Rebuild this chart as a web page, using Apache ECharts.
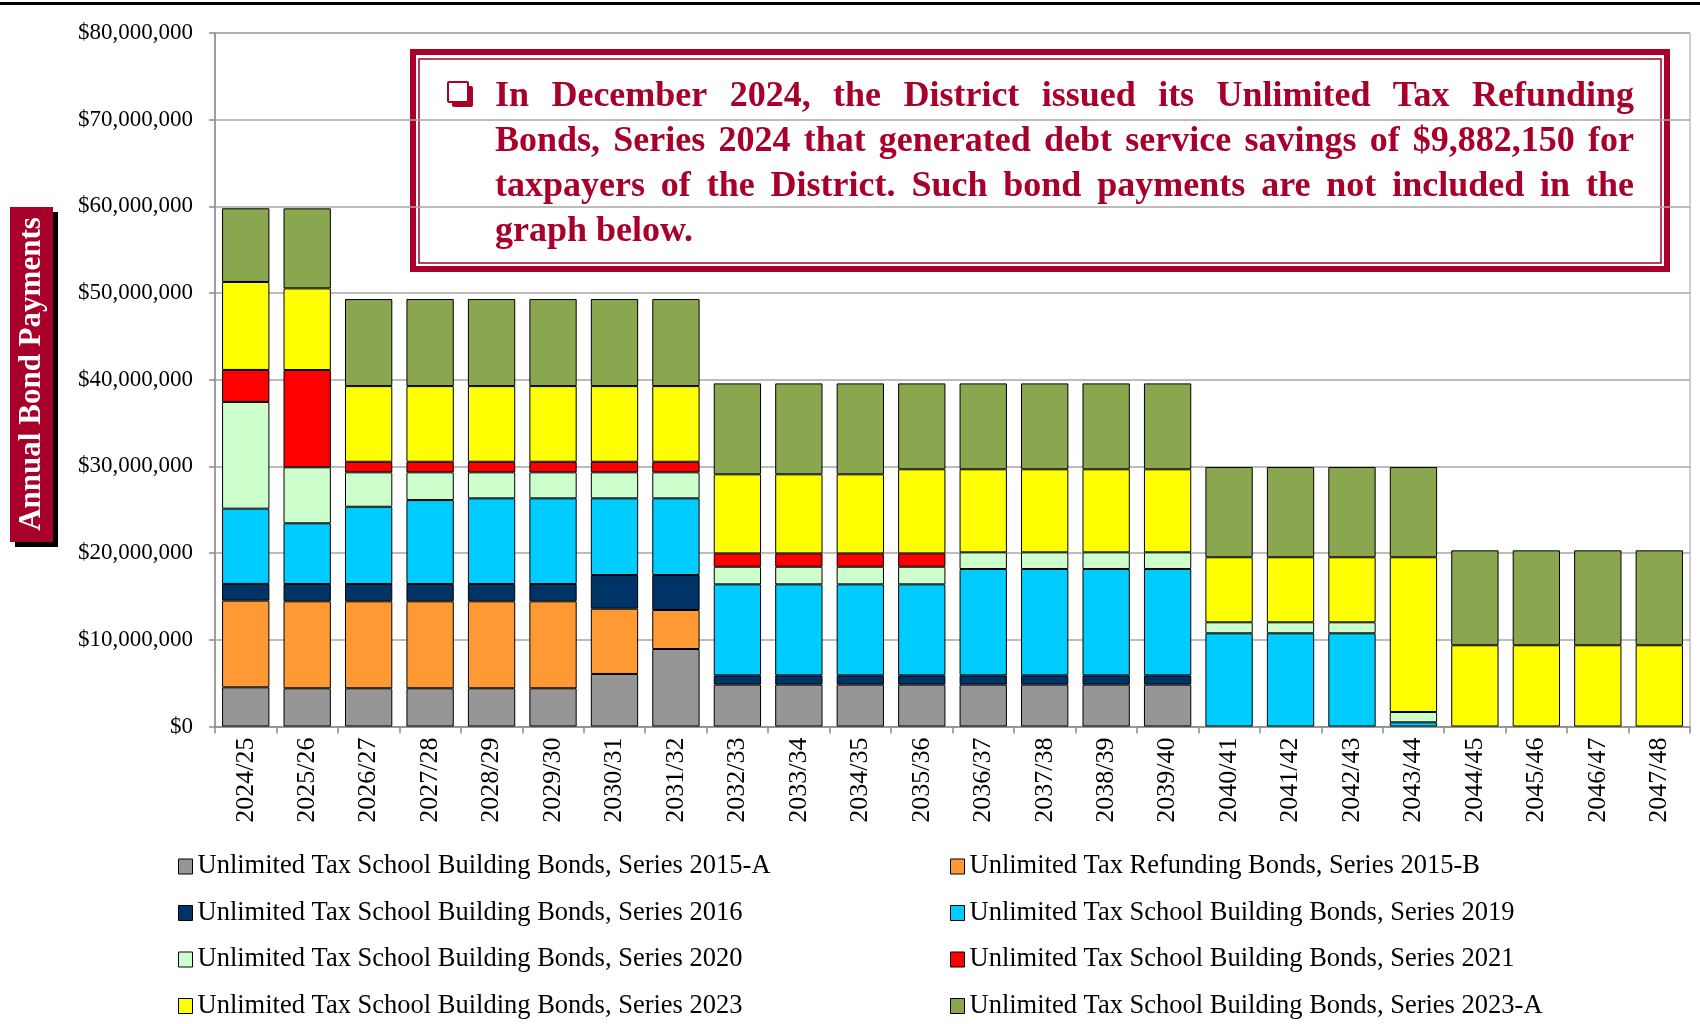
<!DOCTYPE html>
<html>
<head>
<meta charset="utf-8">
<script src="https://cdn.jsdelivr.net/npm/echarts@6/dist/echarts.min.js"></script>
<style>
  html, body { margin: 0; padding: 0; background: #fff; }
  #chart { width: 1700px; height: 1024px; }
</style>
</head>
<body>
<div id="chart"></div>
<script>
const categories = [
  "2024/25", "2025/26", "2026/27", "2027/28", "2028/29", "2029/30", "2030/31", "2031/32",
  "2032/33", "2033/34", "2034/35", "2035/36", "2036/37", "2037/38", "2038/39", "2039/40",
  "2040/41", "2041/42", "2042/43", "2043/44", "2044/45", "2045/46", "2046/47", "2047/48"
];

const s2015A = [4520000, 4410000, 4410000, 4410000, 4410000, 4410000, 6060000, 8940000,
  4830000, 4830000, 4830000, 4830000, 4830000, 4830000, 4830000, 4830000,
  null, null, null, null, null, null, null, null];
const s2015B = [10000000, 10030000, 10030000, 10030000, 10030000, 10030000, 7530000, 4500000,
  null, null, null, null, null, null, null, null,
  null, null, null, null, null, null, null, null];
const s2016 = [1930000, 2000000, 2000000, 2000000, 2000000, 2000000, 3880000, 4030000,
  1070000, 1070000, 1070000, 1070000, 1070000, 1070000, 1070000, 1070000,
  null, null, null, null, null, null, null, null];
const s2019 = [8680000, 7000000, 8910000, 9680000, 9880000, 9880000, 8850000, 8850000,
  10500000, 10500000, 10500000, 10500000, 12270000, 12270000, 12270000, 12270000,
  10750000, 10750000, 10750000, 480000, null, null, null, null];
const s2020 = [12310000, 6460000, 3970000, 3200000, 3000000, 3000000, 3000000, 3000000,
  2030000, 2030000, 2030000, 2030000, 1920000, 1920000, 1920000, 1920000,
  1270000, 1270000, 1270000, 1190000, null, null, null, null];
const s2021 = [3690000, 11220000, 1220000, 1220000, 1220000, 1220000, 1220000, 1220000,
  1540000, 1540000, 1540000, 1540000, null, null, null, null,
  null, null, null, null, null, null, null, null];
const s2023 = [10150000, 9420000, 8730000, 8730000, 8730000, 8730000, 8730000, 8730000,
  9120000, 9120000, 9120000, 9700000, 9580000, 9580000, 9580000, 9580000,
  7500000, 7500000, 7500000, 17850000, 9370000, 9370000, 9370000, 9370000];
const s2023A = [8500000, 9230000, 10040000, 10040000, 10040000, 10040000, 10040000, 10040000,
  10490000, 10490000, 10490000, 9910000, 9910000, 9910000, 9910000, 9910000,
  10410000, 10410000, 10410000, 10410000, 10950000, 10950000, 10950000, 10950000];

const seriesNames = [
  "Unlimited Tax School Building Bonds, Series 2015-A",
  "Unlimited Tax Refunding Bonds, Series 2015-B",
  "Unlimited Tax School Building Bonds, Series 2016",
  "Unlimited Tax School Building Bonds, Series 2019",
  "Unlimited Tax School Building Bonds, Series 2020",
  "Unlimited Tax School Building Bonds, Series 2021",
  "Unlimited Tax School Building Bonds, Series 2023",
  "Unlimited Tax School Building Bonds, Series 2023-A"
];
const seriesData = [s2015A, s2015B, s2016, s2019, s2020, s2021, s2023, s2023A];
const seriesColors = ["#969696", "#FF9933", "#003366", "#00CCFF", "#CCFFCC", "#FF0000", "#FFFF00", "#8AA64F"];

const noteLines = [
  "In December 2024, the District issued its Unlimited Tax Refunding",
  "Bonds, Series 2024 that generated debt service savings of $9,882,150 for",
  "taxpayers of the District. Such bond payments are not included in the",
  "graph below."
];

const SERIF = "'Liberation Serif', 'Times New Roman', serif";
const CRIMSON = "#A8002B";

// justified note text, one word per text element
const noteFont = "bold 36px " + SERIF;
const measureCtx = document.createElement("canvas").getContext("2d");
measureCtx.font = noteFont;
const noteLeft = 495, noteRight = 1634;
const lineY = [97, 142, 186.5, 231.5];
const noteWords = [];
noteLines.forEach((line, i) => {
  const words = line.split(" ");
  const widths = words.map((w) => measureCtx.measureText(w).width);
  const total = widths.reduce((a, b) => a + b, 0);
  const last = i === noteLines.length - 1;
  const gap = last ? measureCtx.measureText(" ").width : (noteRight - noteLeft - total) / (words.length - 1);
  let x = noteLeft;
  words.forEach((w, j) => {
    noteWords.push({
      type: "text", x: x, y: lineY[i], silent: true,
      style: { text: w, font: noteFont, fill: CRIMSON, align: "left", verticalAlign: "middle" }
    });
    x += widths[j] + gap;
  });
});

const chart = echarts.init(document.getElementById("chart"));

const legendBase = {
  orient: "vertical",
  top: 853,
  height: 170,
  padding: 0,
  itemWidth: 14,
  itemHeight: 15,
  itemGap: 19.5,
  icon: "rect",
  itemStyle: { borderColor: "#000", borderWidth: 1 },
  textStyle: { fontFamily: SERIF, fontSize: 26.5, color: "#000", lineHeight: 26 }
};

chart.setOption({
  animation: false,
  backgroundColor: "#fff",
  grid: {
    left: 215, right: 10, top: 33, bottom: 297.5,
    show: true, borderColor: "#A0A0A0", borderWidth: 1
  },
  legend: [
    Object.assign({}, legendBase, { left: 178, data: [seriesNames[0], seriesNames[2], seriesNames[4], seriesNames[6]] }),
    Object.assign({}, legendBase, { left: 950, data: [seriesNames[1], seriesNames[3], seriesNames[5], seriesNames[7]] })
  ],
  xAxis: {
    type: "category",
    data: categories,
    axisLine: { lineStyle: { color: "#8C8C8C", width: 1.5 } },
    axisTick: { show: true, length: 7, lineStyle: { color: "#8C8C8C", width: 1.5 } },
    axisLabel: { rotate: 90, margin: 11, fontFamily: SERIF, fontSize: 26, color: "#000" }
  },
  yAxis: {
    type: "value",
    min: 0, max: 80000000, interval: 10000000,
    axisLine: { show: true, lineStyle: { color: "#8C8C8C", width: 1.5 } },
    axisTick: { show: true, length: 6, lineStyle: { color: "#8C8C8C", width: 1.5 } },
    splitLine: { lineStyle: { color: "#A6A6A6", width: 1.5 } },
    axisLabel: {
      margin: 22, fontFamily: SERIF, fontSize: 23, color: "#000",
      formatter: (v) => "$" + v.toLocaleString("en-US")
    }
  },
  series: seriesData.map((d, i) => ({
    name: seriesNames[i],
    type: "bar",
    stack: "total",
    barWidth: "77%",
    data: d,
    itemStyle: { color: seriesColors[i], borderColor: "#000", borderWidth: 1 }
  })),
  graphic: [
    // top rule
    { type: "rect", shape: { x: 0, y: 2, width: 1700, height: 3 }, style: { fill: "#000" }, silent: true },
    // y axis title box
    { type: "rect", shape: { x: 15, y: 212, width: 43, height: 335 }, style: { fill: "#000" }, silent: true },
    { type: "rect", shape: { x: 10, y: 207, width: 43, height: 335 }, style: { fill: CRIMSON }, silent: true },
    {
      type: "text", x: 32, y: 374, rotation: Math.PI / 2, silent: true,
      style: { text: "Annual Bond Payments", font: "bold 31px " + SERIF, fill: "#fff", align: "center", verticalAlign: "middle" }
    },
    // note box
    { type: "rect", shape: { x: 413, y: 52, width: 1254, height: 217 }, style: { fill: "#fff", stroke: CRIMSON, lineWidth: 6 }, silent: true },
    { type: "rect", shape: { x: 419, y: 59, width: 1242, height: 204 }, style: { fill: "none", stroke: CRIMSON, lineWidth: 1.5 }, silent: true },
    // bullet box
    { type: "rect", shape: { x: 452, y: 86, width: 21, height: 21, r: 2 }, style: { fill: CRIMSON }, silent: true },
    { type: "rect", shape: { x: 448, y: 82, width: 20, height: 20, r: 1 }, style: { fill: "#fff", stroke: CRIMSON, lineWidth: 2 }, silent: true }
  ].concat(noteWords)
});
</script>
</body>
</html>
